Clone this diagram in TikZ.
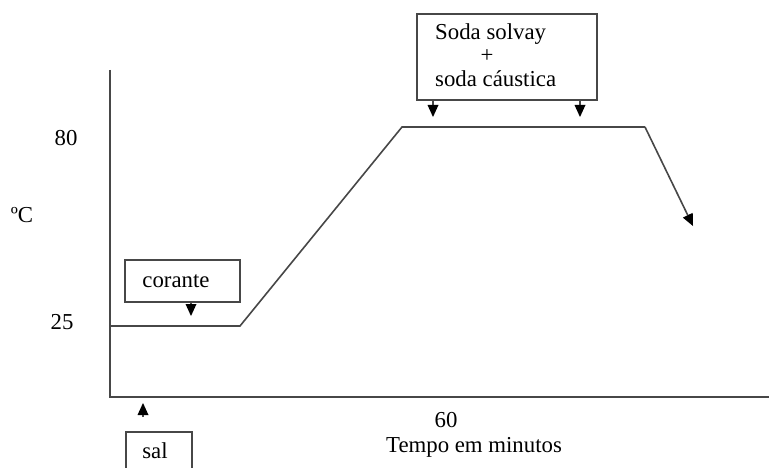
\documentclass[tikz,border=0pt]{standalone}
\usepackage{fontspec}
\setmainfont{Liberation Serif}
\usetikzlibrary{arrows.meta}
\begin{document}
\begin{tikzpicture}[x=1pt,y=-1pt,
  ln/.style={line width=1.6pt,draw=black!72},
  bx/.style={ln,rectangle,inner sep=0pt},
  tip/.style={ln,-{Triangle[length=12pt,width=11pt,line width=0pt,fill=black]}},
  lbl/.style={font=\fontsize{22.8}{26}\selectfont,inner sep=0pt}]
\useasboundingbox (0,0) rectangle (769,468);
% axes
\coordinate (ytop) at (110,70);
\coordinate (orig) at (110,397);
\coordinate (xend) at (769,397);
\draw[ln] (ytop) -- (orig) -- (xend);
% labels
\node[lbl] (l80) at (66,138) {80};
\node[lbl] (lC) at (22,215) {ºC};
\node[lbl] (l25) at (62,322) {25};
\node[lbl] (l60) at (446,420) {60};
\node[lbl] (ltempo) at (474,447) {Tempo em minutos};
% curve
\coordinate (c0) at (110,326);
\coordinate (c1) at (240,326);
\coordinate (c2) at (402,127);
\coordinate (c3) at (645,127);
\coordinate (c4) at (693,226);
\draw[ln] (c0) -- (c1) -- (c2) -- (c3);
\draw[tip] (c3) -- (c4);
% corante box
\node[bx,minimum width=115pt,minimum height=42pt] (cor) at (182.5,281) {};
\node[lbl] (cort) at (176,281) {corante};
\coordinate (corA) at (191,316);
\draw[tip] (cor.south -| corA) -- (corA);
% soda box
\node[bx,minimum width=180pt,minimum height=86pt] (soda) at (507,57) {};
\node[lbl,anchor=west] (s1) at (435,34) {Soda solvay};
\node[lbl] (s2) at (487,56) {+};
\node[lbl,anchor=west] (s3) at (435,79) {soda cáustica};
\coordinate (sA) at (433,117);
\coordinate (sB) at (580,117);
\draw[tip] (soda.south -| sA) -- (sA);
\draw[tip] (soda.south -| sB) -- (sB);
% sal box
\node[bx,minimum width=66pt,minimum height=60pt,anchor=north west] (sal) at (125,431) {};
\node[lbl] (salt) at (155,451) {sal};
\coordinate (salA) at (143,403);
\coordinate (salB) at (143,417);
\draw[tip] (salB) -- (salA);
\end{tikzpicture}
\end{document}
